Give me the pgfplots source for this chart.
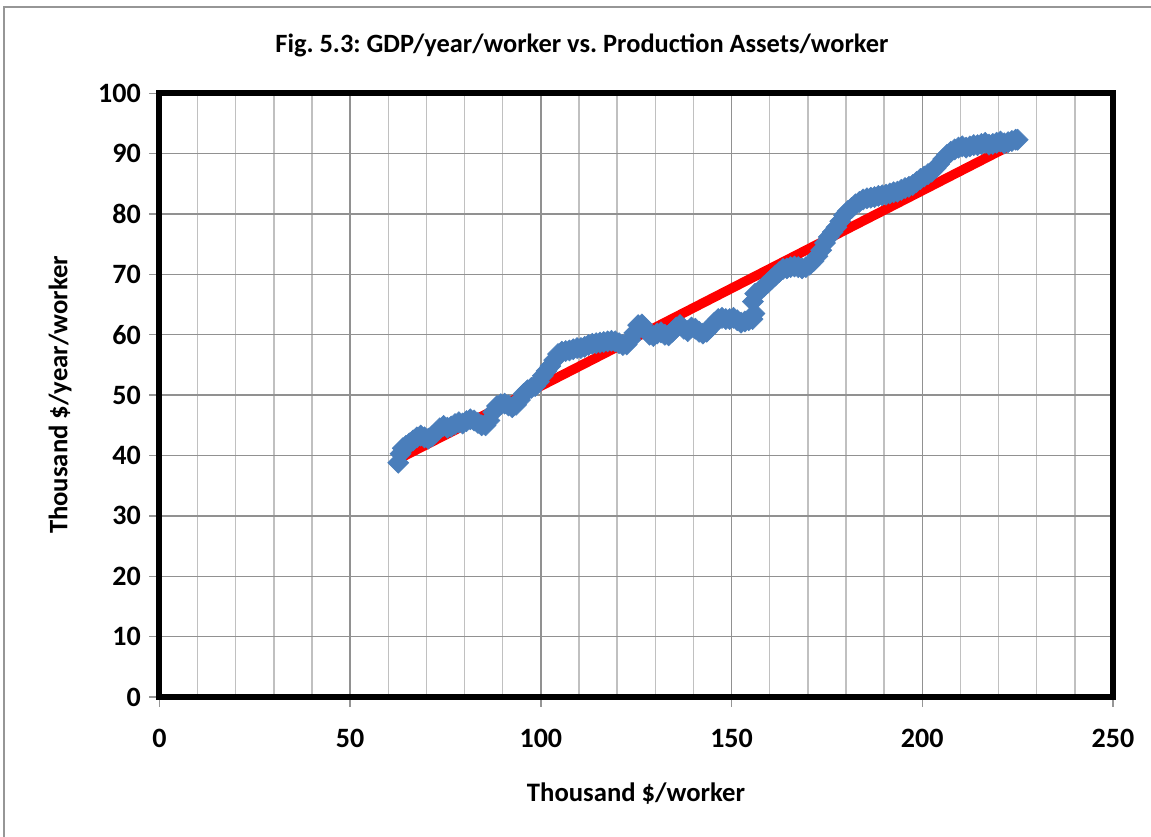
\documentclass[border=0pt]{standalone}
\usepackage{pgfplots}
\pgfplotsset{compat=1.18}
\usepackage{fontspec}
\setmainfont{Carlito}
\frenchspacing
\definecolor{ptblue}{RGB}{74,126,187}
\definecolor{majgrid}{RGB}{145,145,145}
\definecolor{mingrid}{RGB}{192,192,192}
\definecolor{framegray}{RGB}{150,150,150}
\pgfplotstableread{
x y
62.6 38.8
63.2 40.3
63.8 41.2
64.6 41.6
65.5 42.0
66.5 42.5
67.5 43.0
68.5 43.3
69.5 43.0
70.5 42.8
71.5 43.2
72.5 43.8
73.5 44.5
74.5 44.9
75.5 44.6
76.5 44.8
77.5 45.2
78.5 45.5
79.5 45.3
80.5 45.7
81.5 46.0
82.5 45.8
83.5 45.4
84.5 45.0
85.5 45.0
86.5 45.8
87.5 47.2
88.5 48.2
89.5 48.5
90.5 48.6
91.5 48.3
92.5 48.0
93.5 48.4
94.5 49.2
95.5 50.2
96.5 50.8
97.5 51.2
98.5 51.5
99.5 52.2
100.5 53.2
101.5 54.0
102.5 54.8
103.5 55.8
104.5 56.8
105.5 57.2
106.5 57.3
107.5 57.4
108.5 57.6
109.5 57.8
110.5 57.8
111.5 58.0
112.5 58.3
113.5 58.5
114.5 58.6
115.5 58.7
116.5 58.8
117.5 58.9
118.5 59.0
119.5 58.9
120.5 58.6
121.5 58.3
122.5 58.4
123.5 59.2
124.5 60.3
125.5 61.6
126.5 61.7
127.5 60.8
128.5 60.0
129.5 59.8
130.5 60.2
131.5 60.4
132.5 60.0
133.5 59.9
134.5 60.5
135.5 61.2
136.5 61.6
137.5 61.0
138.5 60.6
139.5 61.2
140.5 61.0
141.5 60.5
142.5 60.2
143.5 60.5
144.5 61.2
145.5 62.0
146.5 62.6
147.5 62.8
148.5 62.6
149.5 62.6
150.5 62.8
151.5 62.4
152.5 62.0
153.5 62.2
154.5 62.4
155.5 62.6
156.0 63.5
155.6 65.5
156.2 66.8
157.5 67.4
158.5 68.0
159.5 68.6
160.5 69.2
161.5 69.8
162.5 70.4
163.5 70.9
164.5 71.0
165.5 71.2
166.5 71.3
167.5 71.2
168.5 71.0
169.5 71.2
170.5 71.6
171.5 72.2
172.5 73.0
173.5 74.0
174.5 75.2
175.5 76.2
176.5 77.0
177.5 77.8
178.5 78.8
179.5 79.8
180.5 80.5
181.5 81.0
182.5 81.6
183.5 82.0
184.5 82.4
185.5 82.6
186.5 82.7
187.5 82.8
188.5 83.0
189.5 83.1
190.5 83.2
191.5 83.4
192.5 83.6
193.5 83.7
194.5 84.0
195.5 84.3
196.5 84.5
197.5 84.8
198.5 85.3
199.5 85.8
200.5 86.2
201.5 86.6
202.5 87.0
203.5 87.6
204.5 88.3
205.5 89.1
206.5 89.8
207.5 90.3
208.5 90.7
209.5 91.0
210.5 91.2
211.5 91.0
212.5 91.2
213.5 91.4
214.5 91.4
215.5 91.6
216.5 91.8
217.5 91.5
218.5 91.6
219.5 91.8
220.5 92.0
221.5 91.7
222.5 91.9
223.5 92.1
224.5 92.3
225.0 92.3
}\gdpdata
\begin{document}
\begin{tikzpicture}[x=0.75pt,y=0.75pt]
\useasboundingbox (0,0) rectangle (1151,837);
\draw[framegray, line width=1.1pt] (4,-20) -- (4,830) -- (1200,830);
\begin{axis}[
  at={(119.6pt,105pt)}, anchor=south west,
  scale only axis, width=715.1pt, height=452.8pt,
  xmin=0, xmax=250, ymin=0, ymax=100,
  xtick={0,50,...,250}, ytick={0,10,...,100},
  minor x tick num=4,
  xmajorgrids, xminorgrids, ymajorgrids,
  major grid style={majgrid, line width=1.1pt},
  minor grid style={mingrid, line width=1.1pt},
  axis line style={line width=4.5pt, black},
  tick align=outside, tick pos=left,
  major tick length=7.5pt, minor tick length=0pt,
  tick style={framegray, line width=1pt},
  /pgf/number format/assume math mode=true,
  ticklabel style={font=\fontsize{21pt}{24pt}\selectfont\bfseries},
  xticklabel style={yshift=-13pt},
  yticklabel style={xshift=-3pt},
  clip=false,
]
\addplot[only marks, mark=square*, mark size=5.6pt,
  mark options={rotate=45, fill=ptblue, draw=ptblue}] table[x=x,y=y] {\gdpdata};
\addplot[red, line width=7.2pt, line cap=round] coordinates {(62.6,39.4) (224.8,91.9)};
\end{axis}
\node[font=\fontsize{19.8pt}{23pt}\selectfont\bfseries] at (582,792) {Fig. 5.3: GDP/year/worker vs. Production Assets/worker};
\node[font=\fontsize{20pt}{23pt}\selectfont\bfseries] at (636,43) {Thousand \$/worker};
\node[font=\fontsize{20pt}{23pt}\selectfont\bfseries, rotate=90] at (60,442) {Thousand \$/year/worker};
\end{tikzpicture}
\end{document}
